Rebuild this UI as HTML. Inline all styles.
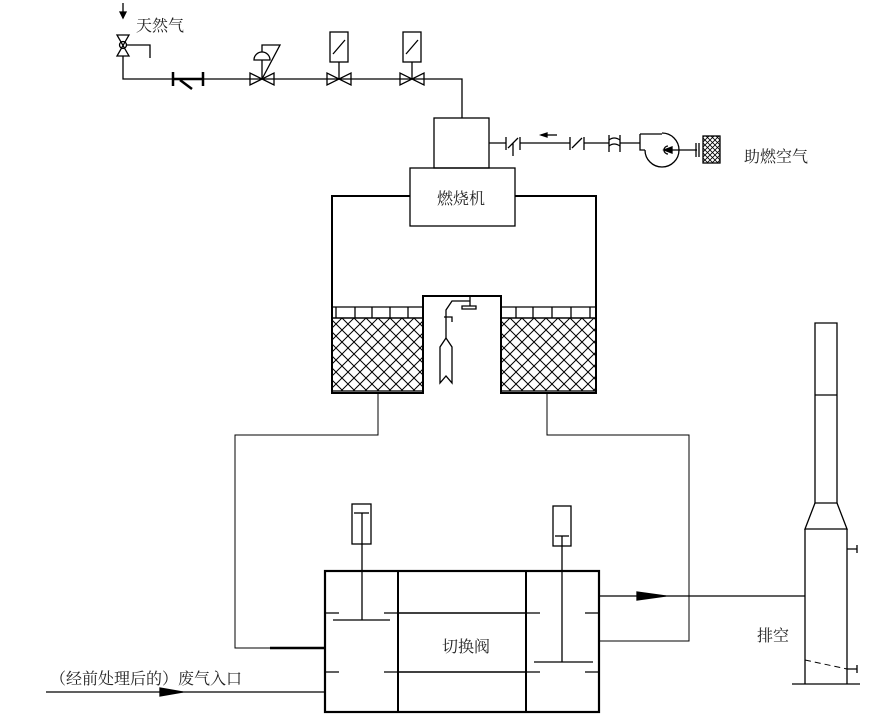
<!DOCTYPE html>
<html><head><meta charset="utf-8"><style>
html,body{margin:0;padding:0;background:#fff;width:883px;height:718px;overflow:hidden}
svg{display:block}
text{font-family:"Liberation Serif","Noto Serif CJK SC","Noto Sans CJK SC",serif;fill:#222}
</style></head><body>
<svg width="883" height="718" viewBox="0 0 883 718" xmlns="http://www.w3.org/2000/svg">
<defs>
<pattern id="hx" width="12" height="12" patternUnits="userSpaceOnUse">
<path d="M0 0L12 12M12 0L0 12" stroke="#000" stroke-width="1"/>
</pattern>
<pattern id="fx" width="5" height="5" patternUnits="userSpaceOnUse">
<path d="M0 0L5 5M5 0L0 5" stroke="#000" stroke-width="0.8"/>
</pattern>
</defs>
<g fill="none" stroke="#000" stroke-width="1.3">
<!-- gas line -->
<path d="M123 3V18"/><path d="M120 12L123 18L126 12Z" fill="#000"/>
<path d="M123 56V79H462V118"/>
<path d="M117 35L129 35L117 56L129 56Z"/>
<circle cx="123" cy="45" r="3.5"/>
<path d="M127 45H150V58"/>
<!-- strainer -->
<path d="M173 72V86M203 72V86M173 79H203" stroke-width="2.5"/>
<path d="M180 80L192 89" stroke-width="2.5"/>
<!-- regulator -->
<path d="M250 73V85L274 73V85Z"/>
<path d="M262 79V60"/>
<path d="M254 60A8 8 0 0 1 270 60Z"/>
<path d="M262 52V45H280L262 79"/>
<!-- solenoid 1 -->
<path d="M327 73V85L351 73V85Z"/>
<path d="M339 79V62"/><rect x="330" y="32" width="18" height="30"/><path d="M333 54L345 40"/>
<path d="M400 73V85L424 73V85Z"/>
<path d="M412 79V62"/><rect x="403" y="32" width="18" height="30"/><path d="M406 54L418 40"/>
<!-- burner -->
<rect x="434" y="118" width="55" height="50"/>
<rect x="410" y="168" width="105" height="58"/>
<path d="M410 196H332V393H423V296H501V393H596V196H515" stroke-width="2"/>
<!-- air line -->
<path d="M489 143H506M520 143H570M584 143H609M620 143H640"/>
<path d="M506 137V150M520 137V150M570 137V150M584 137V150M609 135V152M620 135V152"/>
<path d="M508 148L518 138M572 148L582 138M513 143V156"/>
<path d="M609 140Q614 136 620 140M609 146Q614 142 620 146"/>
<path d="M541 135H557"/><path d="M541 135L547 133V137Z" fill="#000"/>
<path d="M640 134H662M640 134V150H645"/>
<path d="M662 133A17 17 0 1 1 645 150"/>
<path d="M668 146A4 4 0 1 0 668 154"/>
<path d="M697 150H664"/><path d="M664 150L672 147V153Z" fill="#000"/>
<path d="M696 143V157M699 143V157"/>
<rect x="703" y="136" width="17" height="27" fill="url(#fx)"/>
<!-- beds -->
<rect x="332" y="318" width="91" height="73" fill="url(#hx)"/>
<rect x="501" y="318" width="95" height="73" fill="url(#hx)"/>
<path d="M332 307H423M501 307H596M332 318H423M501 318H596"/>
<path d="M336 307V318M355 307V318M372 307V318M390 307V318M408 307V318M516 307V318M533 307V318M552 307V318M571 307V318M590 307V318"/>
<!-- igniter -->
<path d="M470 296V306M462 306H476V309H462Z"/>
<path d="M470 301H452L446 310V338"/>
<path d="M444 317H452V322"/>
<path d="M446 338L440 347V383L446 376L452 383V347Z"/>
<!-- connecting pipes -->
<path d="M378 393V435H235V648H325" stroke-width="1"/>
<path d="M270 648H325" stroke-width="2.5"/>
<path d="M547 393V435H689V641H599" stroke-width="1"/>
<!-- switch valve -->
<rect x="325" y="571" width="274" height="141" stroke-width="2.2"/>
<path d="M398 571V712M526 571V712" stroke-width="2"/>
<path d="M398 613H526M398 672H526" stroke-width="1.6"/>
<path d="M325 613H339M384 613H398M325 672H339M384 672H398M526 613H540M585 613H599M526 672H540M585 672H599"/>
<path d="M333 620H390M362 620V513"/>
<rect x="352" y="504" width="19" height="40"/><path d="M354 513H369"/>
<path d="M534 662H593M562 662V536"/>
<rect x="553" y="506" width="18" height="40"/><path d="M555 536H569"/>
<!-- outlet -->
<path d="M599 596H805"/><path d="M637 592L666 596L637 600Z" fill="#000"/>
<!-- inlet -->
<path d="M46 692H325"/><path d="M160 688L183 692L160 696Z" fill="#000"/>
<!-- stack -->
<path d="M815 323H837V503H815Z"/><path d="M815 395H837"/>
<path d="M815 503L805 529H847L837 503" />
<path d="M805 529V684M847 529V684"/>
<path d="M792 684H860"/>
<path d="M847 549H857M857 545V553M847 669H857M857 665V673"/>
<path d="M805 660L847 669" stroke-dasharray="6 4" stroke-width="1"/>
</g>
<text x="136" y="31" font-size="16">天然气</text>
<text x="744" y="162" font-size="16">助燃空气</text>
<text x="437" y="204" font-size="16">燃烧机</text>
<text x="442" y="652" font-size="16">切换阀</text>
<text x="757" y="641" font-size="16">排空</text>
<text x="50" y="684" font-size="16">（经前处理后的）废气入口</text>
</svg>
</body></html>
